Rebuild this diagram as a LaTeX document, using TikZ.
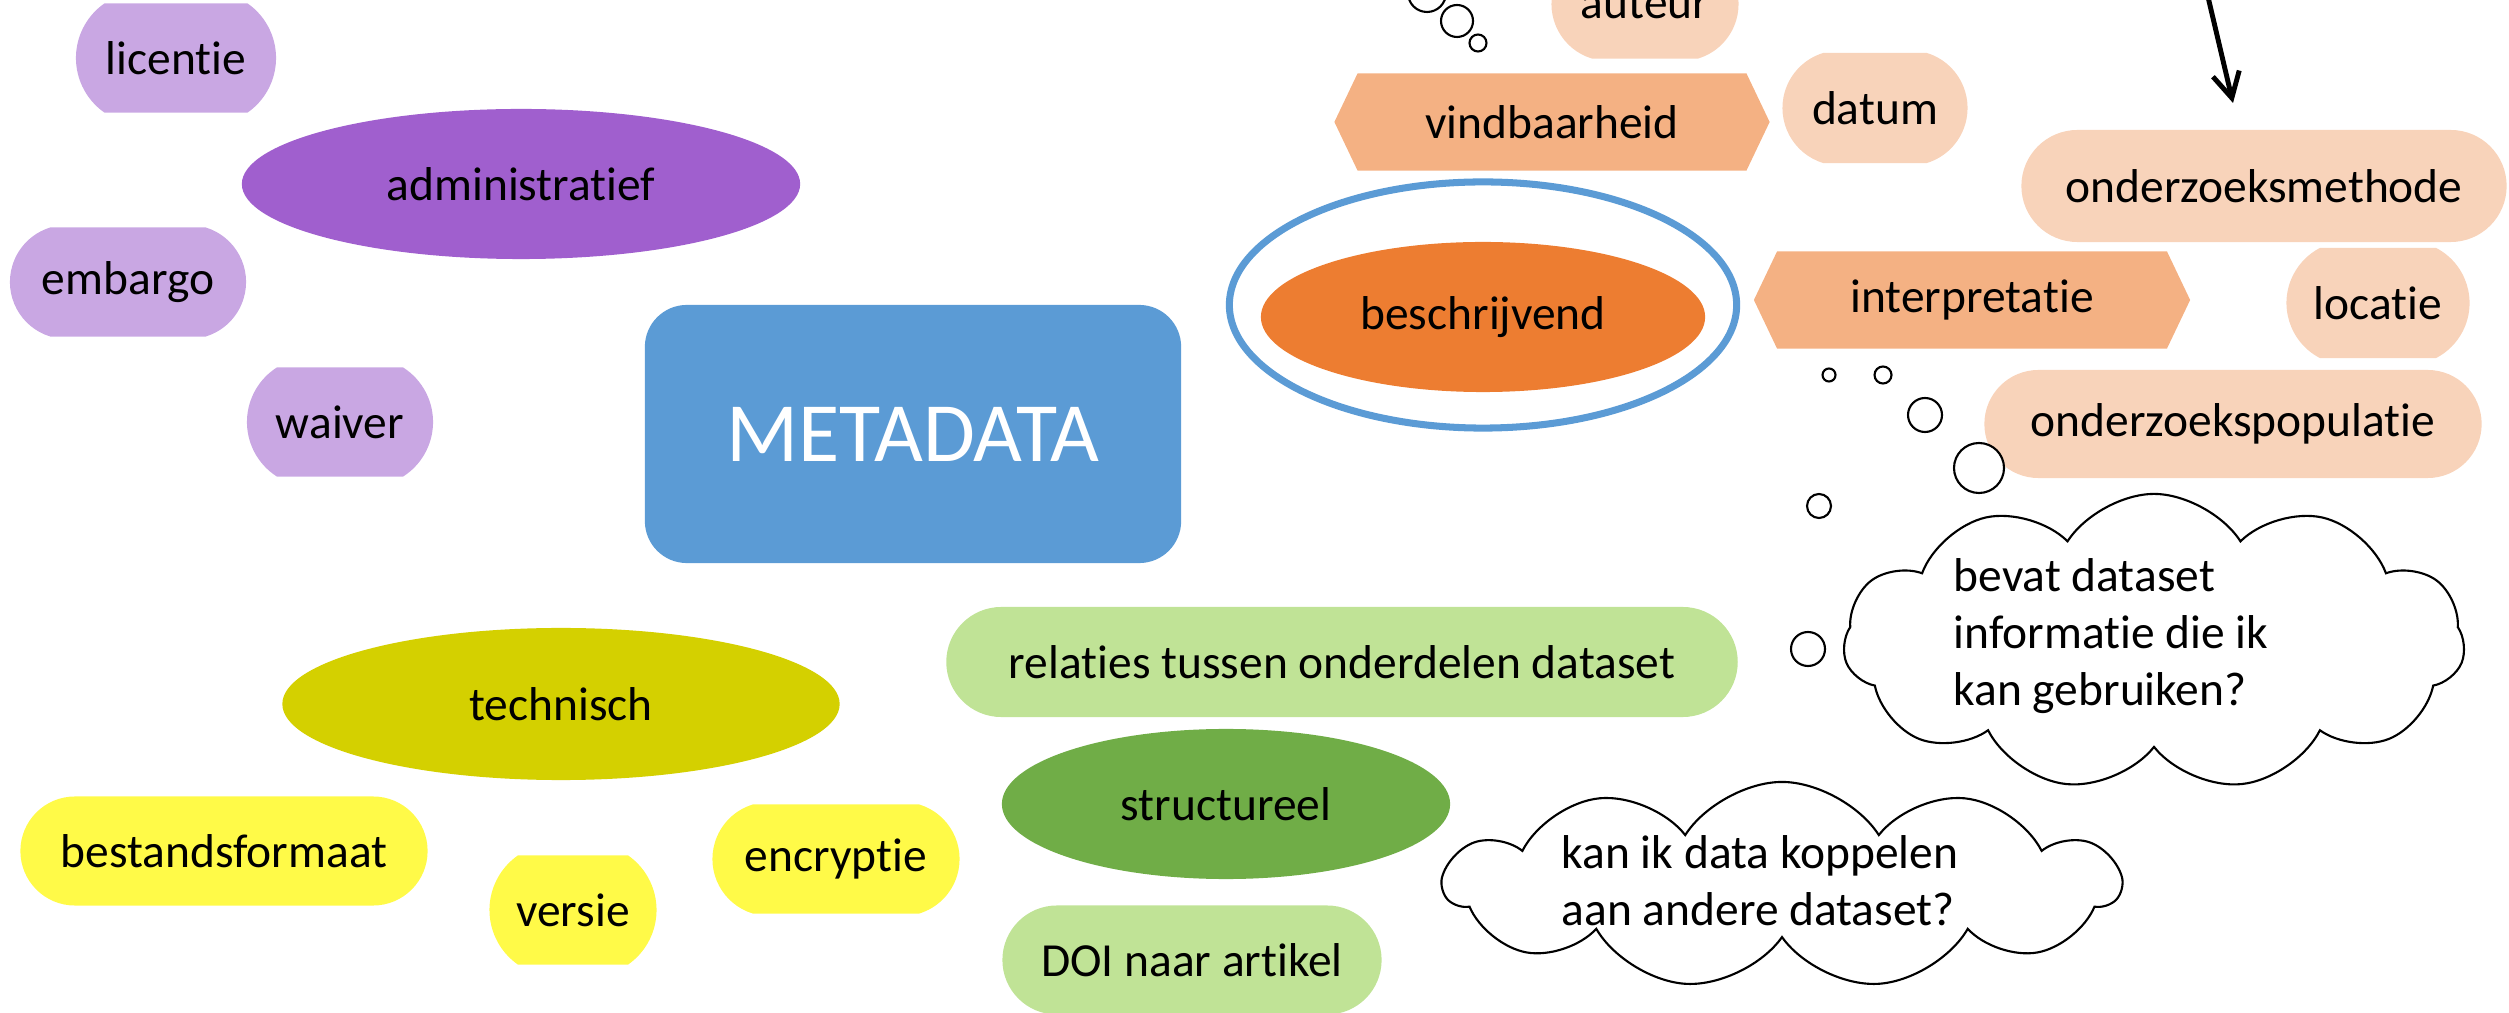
\documentclass[tikz,border=0pt]{standalone}
\usepackage{fontspec}
\setmainfont{Carlito}[Ligatures=NoCommon]
\usetikzlibrary{shapes.geometric, shapes.misc, shapes.symbols, arrows.meta}

\definecolor{paarslicht}{RGB}{201,167,227}
\definecolor{paars}{RGB}{160,95,206}
\definecolor{blauw}{RGB}{91,155,213}
\definecolor{olijf}{RGB}{212,208,0}
\definecolor{geel}{RGB}{255,250,72}
\definecolor{groenlicht}{RGB}{192,227,150}
\definecolor{groen}{RGB}{112,173,71}
\definecolor{perzik}{RGB}{248,211,186}
\definecolor{zalm}{RGB}{244,177,131}
\definecolor{oranje}{RGB}{237,125,49}

\tikzset{
  basis/.style={inner sep=0pt, font=\fontsize{13.5}{16.2}\selectfont},
  pil/.style={basis, rounded rectangle, minimum height=1.09cm},
  ovaal/.style={basis, ellipse},
  wijzer/.style={basis, signal, signal to=west and east, signal pointer angle=129, minimum height=0.97cm, fill=zalm},
  wolk/.style={basis, cloud, draw, fill=white, line width=0.6pt, cloud puffs=11, cloud puff arc=115, cloud ignores aspect},
  wolktekst/.style={basis, anchor=west, align=left},
  bel/.style={draw, fill=white, line width=0.6pt},
}

\begin{document}
\begin{tikzpicture}[x=0.01cm, y=-0.01cm]
    \useasboundingbox (0,0) rectangle (2509,1013);
    \clip (0,0) rectangle (2509,1013);

    % administratief
    \node[pil, fill=paarslicht, minimum width=2cm, rounded rectangle arc length=110] (licentie) at (176,58) {licentie};
    \node[ovaal, fill=paars, minimum width=5.58cm, minimum height=1.5cm] (administratief) at (521,184) {administratief};
    \node[pil, fill=paarslicht, minimum width=2.36cm, rounded rectangle arc length=146] (embargo) at (128,282) {embargo};
    \node[pil, fill=paarslicht, minimum width=1.86cm, rounded rectangle arc length=115] (waiver) at (340,422) {waiver};

    % centrum
    \node[rounded corners=0.42cm, fill=blauw, minimum width=5.36cm, minimum height=2.58cm, text=white, font=\fontsize{24}{28}\selectfont] (metadata) at (913,434) {METADATA};

    % technisch
    \node[ovaal, fill=olijf, minimum width=5.57cm, minimum height=1.52cm] (technisch) at (561,704) {technisch};
    \node[pil, fill=geel, minimum width=4.07cm, rounded rectangle arc length=180] (bestandsformaat) at (224,851) {bestandsformaat};
    \node[pil, fill=geel, minimum width=1.67cm, rounded rectangle arc length=110] (versie) at (573,910) {versie};
    \node[pil, fill=geel, minimum width=2.47cm, rounded rectangle arc length=146] (encryptie) at (836,859) {encryptie};

    % structureel
    \node[pil, fill=groenlicht, minimum width=7.91cm, minimum height=1.1cm] (relaties) at (1342,662) {relaties tussen onderdelen dataset};
    \node[ovaal, fill=groen, minimum width=4.48cm, minimum height=1.5cm] (structureel) at (1226,804) {structureel};
    \node[pil, fill=groenlicht, minimum width=3.79cm] (doi) at (1192,960) {DOI naar artikel};

    % beschrijvend
    \node[ovaal, draw=blauw, line width=2pt, minimum width=5.07cm, minimum height=2.46cm] (ring) at (1483,305) {};
    \node[ovaal, fill=oranje, minimum width=4.44cm, minimum height=1.5cm] (beschrijvend) at (1483,317) {beschrijvend};
    \node[wijzer, minimum width=4.35cm] (vindbaarheid) at (1552,122) {vindbaarheid};
    \node[wijzer, minimum width=4.36cm] (interpretatie) at (1972,300) {interpretatie};
    \node[pil, fill=perzik, minimum width=1.87cm, rounded rectangle arc length=146] (auteur) at (1645,4) {auteur};
    \node[pil, fill=perzik, minimum width=1.85cm, minimum height=1.1cm, rounded rectangle arc length=146] (datum) at (1875,108) {datum};
    \node[pil, fill=perzik, minimum width=4.85cm, minimum height=1.12cm] (methode) at (2264,186) {onderzoeksmethode};
    \node[pil, fill=perzik, minimum width=1.83cm, minimum height=1.1cm, rounded rectangle arc length=125] (locatie) at (2378,303) {locatie};
    \node[pil, fill=perzik, minimum width=4.97cm, minimum height=1.08cm] (populatie) at (2233,424) {onderzoekspopulatie};

    % pijl
    \coordinate (pijlstart) at (2208,-3);
    \coordinate (pijlpunt) at (2233,103);
    \draw[line width=1.4pt, -{Straight Barb[length=0.25cm, width=0.27cm]}] (pijlstart) -- (pijlpunt);

    % gedachtewolken
    \foreach \bx/\by/\br in {1427/-7/19, 1457/21/16, 1478/43/8.5, 1829/375/6.5, 1883/375/8.5, 1925/415/17, 1979/468/25, 1819/506/12, 1808/649/17}
      \draw[bel] (\bx,\by) circle[radius=\br];
    \node[wolk, minimum width=6.21cm, minimum height=2.96cm] (vraag1) at (2154,642) {};
    \node[wolktekst] (vraag1tekst) at (1953,636) {bevat dataset\\informatie die ik\\kan gebruiken?};
    \node[wolk, minimum width=6.75cm, minimum height=2.06cm] (vraag2) at (1782,885) {};
    \node[wolktekst] (vraag2tekst) at (1561,881) {kan ik data koppelen\\aan andere dataset?};
\end{tikzpicture}
\end{document}
